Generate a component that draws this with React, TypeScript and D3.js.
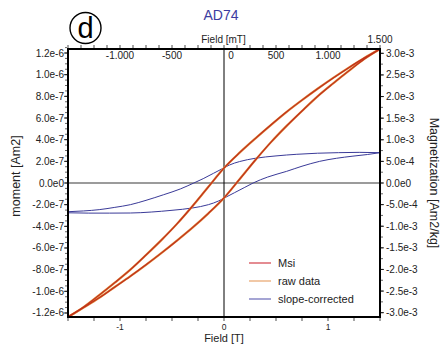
import React from "react";
import * as d3 from "d3";

// ---- data (moment in 1e-6 Am2, field in T), each branch sorted by field ----
const redUpperH = [-1.5, -1.35, -1.2, -1.05, -0.9, -0.75, -0.6, -0.45, -0.3, -0.15, 0, 0.15, 0.3, 0.45, 0.6, 0.75, 0.9, 1.05, 1.2, 1.35, 1.5];
const redUpperM = [-1.237, -1.145, -1.035, -0.92, -0.8, -0.665, -0.525, -0.375, -0.21, -0.035, 0.138, 0.28, 0.41, 0.535, 0.655, 0.765, 0.87, 0.97, 1.065, 1.155, 1.237];
const redLowerH = [-1.5, -1.35, -1.2, -1.05, -0.9, -0.75, -0.6, -0.45, -0.3, -0.15, 0, 0.15, 0.3, 0.45, 0.6, 0.75, 0.9, 1.05, 1.2, 1.35, 1.5];
const redLowerM = [-1.237, -1.15, -1.06, -0.96, -0.86, -0.755, -0.645, -0.53, -0.41, -0.28, -0.138, 0.035, 0.21, 0.375, 0.525, 0.665, 0.8, 0.92, 1.035, 1.145, 1.237];

const blueUpperH = [-1.5, -1.35, -1.2, -1.05, -0.9, -0.75, -0.58, -0.42, -0.29, -0.2, -0.1, 0, 0.05, 0.15, 0.3, 0.5, 0.7, 0.9, 1.1, 1.3, 1.5];
const blueUpperM = [-0.265, -0.258, -0.246, -0.225, -0.2, -0.16, -0.108, -0.055, 0.0, 0.04, 0.09, 0.14, 0.165, 0.198, 0.228, 0.25, 0.265, 0.275, 0.28, 0.283, 0.28];
const blueLowerH = [-1.5, -1.3, -1.1, -0.9, -0.7, -0.5, -0.3, -0.15, -0.05, 0, 0.1, 0.2, 0.28, 0.42, 0.6, 0.75, 0.92, 1.08, 1.24, 1.38, 1.5];
const blueLowerM = [-0.275, -0.278, -0.278, -0.277, -0.268, -0.252, -0.23, -0.2, -0.165, -0.14, -0.09, -0.04, 0.0, 0.055, 0.107, 0.155, 0.2, 0.228, 0.248, 0.263, 0.28];

const leftTicks = [-1.2e-6, -1.0e-6, -8e-7, -6e-7, -4e-7, -2e-7, 0, 2e-7, 4e-7, 6e-7, 8e-7, 1.0e-6, 1.2e-6];
const rightTicks = [-3e-3, -2.5e-3, -2e-3, -1.5e-3, -1e-3, -5e-4, 0, 5e-4, 1e-3, 1.5e-3, 2e-3, 2.5e-3, 3e-3];
const bottomTicks = [-1, 0, 1];
const topTicks = [-1000, -500, 0, 500, 1000];
const topTickLabels = ["-1.000", "-500", "0", "500", "1.000"];
const topEndLabel = "1.500";

const legendNames = ["Msi", "raw data", "slope-corrected"];
const legendColors = ["#d2404a", "#e8a46c", "#6a6ab8"];

const W = 447, H = 349;
const L = 68, R = 380, T = 49, B = 317;

const x = d3.scaleLinear().domain([-1.5, 1.5]).range([L, R]);
const xTop = d3.scaleLinear().domain([-1500, 1500]).range([L, R]);
const y = d3.scaleLinear().domain([-1.237e-6, 1.237e-6]).range([B, T]);
const yR = d3.scaleLinear().domain([-3.1e-3, 3.1e-3]).range([B, T]);

const fmtE = (v: number) => v.toExponential(1).replace("e+", "e");

const mkLine = (hs: number[], ms: number[]) => {
  const pts = hs.map((h, i) => [h, ms[i] * 1e-6] as [number, number]);
  return d3.line<[number, number]>().x((d) => x(d[0])).y((d) => y(d[1])).curve(d3.curveMonotoneX)(pts) || "";
};

export default function App() {
  const font = "Helvetica, 'Liberation Sans', Arial, sans-serif";
  const leftMinor = d3.range(-1.2e-6, 1.2501e-6, 5e-8);
  const bottomMinor = d3.range(-1.5, 1.5001, 0.25);
  const topMinor = d3.range(-1500, 1500.1, 125);
  const rightMinor = d3.range(-3e-3, 3.0001e-3, 2.5e-4);

  const redU = mkLine(redUpperH, redUpperM);
  const redL = mkLine(redLowerH, redLowerM);
  const blueU = mkLine(blueUpperH, blueUpperM);
  const blueL = mkLine(blueLowerH, blueLowerM);

  return (
    <svg width={W} height={H} style={{ position: "absolute", left: 0, top: 0 }} fontFamily={font}>
      <rect x={0} y={0} width={W} height={H} fill="#fff" />
      {/* panel label */}
      <circle cx={85.5} cy={28} r={15.5} fill="none" stroke="#000" strokeWidth={1.4} />
      <text x={85.5} y={38} textAnchor="middle" fontSize={29} fill="#000">d</text>
      {/* title */}
      <text x={221} y={20} textAnchor="middle" fontSize={14} fill="#3c3ca0">AD74</text>
      <text x={223.5} y={43} textAnchor="middle" fontSize={10} fill="#222">Field [mT]</text>
      <text x={R} y={43} textAnchor="middle" fontSize={10} fill="#222">{topEndLabel}</text>

      <defs>
        <clipPath id="plotclip">
          <rect x={L} y={T} width={R - L} height={B - T} />
        </clipPath>
      </defs>

      {/* zero lines */}
      <line x1={L} x2={R} y1={y(0)} y2={y(0)} stroke="#7a7a7a" strokeWidth={1.4} />
      <line x1={x(0)} x2={x(0)} y1={T} y2={B} stroke="#000" strokeWidth={1} />

      {/* curves */}
      <g clipPath="url(#plotclip)" fill="none">
        <path d={blueU} stroke="#3a3a98" strokeWidth={1} />
        <path d={blueL} stroke="#3a3a98" strokeWidth={1} />
        <path d={redU} stroke="#e08a3c" strokeWidth={2.2} />
        <path d={redL} stroke="#e08a3c" strokeWidth={2.2} />
        <path d={redU} stroke="#c0301c" strokeWidth={1.2} />
        <path d={redL} stroke="#c0301c" strokeWidth={1.2} />
      </g>

      {/* frame */}
      <rect x={L} y={T} width={R - L} height={B - T} fill="none" stroke="#000" strokeWidth={2} />

      {/* left ticks */}
      {leftMinor.map((v, i) => (
        <line key={"lm" + i} x1={L - 1} x2={L - 3} y1={y(v)} y2={y(v)} stroke="#000" strokeWidth={0.6} />
      ))}
      {leftTicks.map((v, i) => (
        <g key={"lt" + i}>
          <line x1={L - 1} x2={L - 4} y1={y(v)} y2={y(v)} stroke="#000" strokeWidth={0.8} />
          <text x={L - 4} y={y(v) + 3.5} textAnchor="end" fontSize={10} fill="#222">{fmtE(v)}</text>
        </g>
      ))}
      {/* right ticks */}
      {rightMinor.map((v, i) => (
        <line key={"rm" + i} x1={R + 1} x2={R + 3} y1={yR(v)} y2={yR(v)} stroke="#000" strokeWidth={0.6} />
      ))}
      {rightTicks.map((v, i) => (
        <g key={"rt" + i}>
          <line x1={R + 1} x2={R + 4} y1={yR(v)} y2={yR(v)} stroke="#000" strokeWidth={0.8} />
          <text x={R + 6} y={yR(v) + 3.5} textAnchor="start" fontSize={10} fill="#222">{fmtE(v)}</text>
        </g>
      ))}
      {/* bottom ticks */}
      {bottomMinor.map((v, i) => (
        <line key={"bm" + i} x1={x(v)} x2={x(v)} y1={B + 1} y2={B + 4} stroke="#000" strokeWidth={0.7} />
      ))}
      {bottomTicks.map((v, i) => (
        <text key={"bt" + i} x={x(v)} y={330} textAnchor="middle" fontSize={8.5} fill="#222">{String(v)}</text>
      ))}
      <text x={x(0)} y={342} textAnchor="middle" fontSize={11} fill="#222">Field [T]</text>

      {/* top ticks */}
      {topMinor.map((v, i) => (
        <line key={"tm" + i} x1={xTop(v)} x2={xTop(v)} y1={T - 1} y2={T - 4} stroke="#000" strokeWidth={0.7} />
      ))}
      {topTicks.map((v, i) => (
        <text key={"tt" + i} x={xTop(v) + (v === 0 ? 7 : 0)} y={59} textAnchor="middle" fontSize={10} fill="#222">{topTickLabels[i]}</text>
      ))}

      {/* axis titles */}
      <text transform={`translate(20,176) rotate(-90)`} textAnchor="middle" fontSize={12.5} fill="#222">moment [Am2]</text>
      <text transform={`translate(430,${(T + B) / 2}) rotate(90)`} textAnchor="middle" fontSize={12.5} fill="#222">Magnetization [Am2/kg]</text>

      {/* legend */}
      {legendNames.map((n, i) => (
        <g key={"lg" + i}>
          <line x1={249} x2={271} y1={263 + i * 18} y2={263 + i * 18} stroke={legendColors[i]} strokeWidth={1.2} />
          <text x={278} y={267 + i * 18} fontSize={11} fill="#222">{n}</text>
        </g>
      ))}
    </svg>
  );
}
